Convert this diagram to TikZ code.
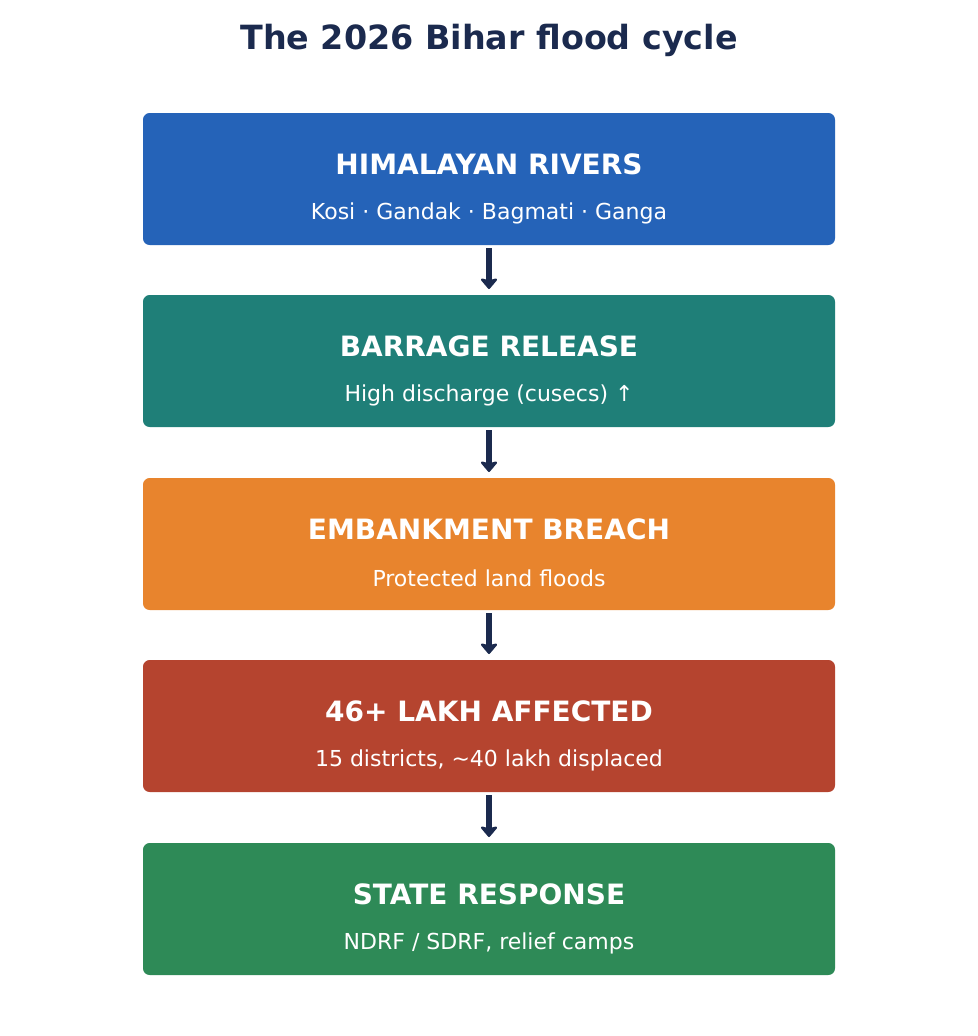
\documentclass[tikz,border=0pt]{standalone}
\usepackage{fontspec}
\setmainfont{DejaVu Sans}
\usetikzlibrary{arrows.meta}
\definecolor{navy}{HTML}{1B2A4E}
\definecolor{cA}{HTML}{2563B8}
\definecolor{cB}{HTML}{1F7F78}
\definecolor{cC}{HTML}{E8842D}
\definecolor{cD}{HTML}{B5442F}
\definecolor{cE}{HTML}{2E8A57}
\begin{document}
\begin{tikzpicture}[x=0.75pt,y=-0.75pt,
  box/.style={rounded corners=5pt,draw=none},
  ttl/.style={text=white,font=\bfseries\fontsize{21}{25}\selectfont},
  sub/.style={text=white,font=\fontsize{16.5}{20}\selectfont},
  arr/.style={navy,line width=4pt,-{Stealth[round,length=9pt,width=15pt,inset=2pt]}}]
\useasboundingbox (0,0) rectangle (978,1036);
\node[text=navy,font=\bfseries\fontsize{25}{30}\selectfont] (title) at (489,40) {The 2026 Bihar flood cycle};
\foreach \n/\y/\c/\t/\s in {
 a/113/cA/HIMALAYAN RIVERS/{Kosi · Gandak · Bagmati · Ganga},
 b/295/cB/BARRAGE RELEASE/{High discharge (cusecs) ↑},
 c/478/cC/EMBANKMENT BREACH/{Protected land floods},
 d/660/cD/46+ LAKH AFFECTED/{15 districts, \textasciitilde40 lakh displaced},
 e/843/cE/STATE RESPONSE/{NDRF / SDRF, relief camps}}{
  \fill[\c,box] (143,\y) rectangle (835,\y+132);
  \coordinate (\n-top) at (489,\y);
  \coordinate (\n-bot) at (489,\y+132);
  \node[ttl] (\n-t) at (489,\y+51) {\t};
  \node[sub] (\n-s) at (489,\y+100) {\s};
}
\foreach \p/\q in {a/b,b/c,c/d,d/e}{
  \draw[arr] ([yshift=-2.5pt]\p-bot) -- ([yshift=4.5pt]\q-top);
}
\end{tikzpicture}
\end{document}
